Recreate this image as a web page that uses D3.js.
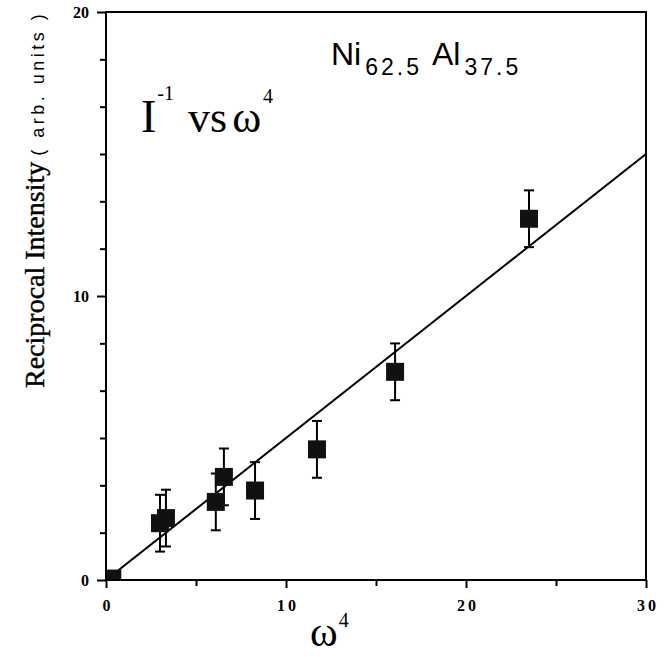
<!DOCTYPE html>
<html>
<head>
<meta charset="utf-8">
<script src="https://cdn.jsdelivr.net/npm/d3@7"></script>
<style>
  html, body { margin: 0; padding: 0; background: #fff; }
  svg { display: block; }
</style>
</head>
<body>
<div id="chart"></div>
<script>
// ---- data ----
const omega4 = [0.35, 3.0, 3.33, 6.1, 6.55, 8.28, 11.72, 16.06, 23.5];
const recipIntensity = [0.05, 2.0, 2.18, 2.75, 3.63, 3.15, 4.6, 7.33, 12.72];
const errors = [0, 1.0, 1.0, 1.0, 1.0, 1.0, 1.0, 1.0, 1.0];
const fitSlope = 0.5;
const fitRange = [0, 30];
const xMajorTicks = [0, 10, 20, 30];
const xMinorTicks = [5, 15, 25];
const yMajorTicks = [0, 10, 20];
const yMinorTicks = [10/6, 20/6, 30/6, 40/6, 50/6, 70/6, 80/6, 90/6, 100/6, 110/6];

const W = 667, H = 657;
const mLeft = 106, mRight = 646, mTop = 12, mBottom = 580;

const svg = d3.select("#chart").append("svg").attr("width", W).attr("height", H);
svg.append("rect").attr("width", W).attr("height", H).attr("fill", "#fff");

const x = d3.scaleLinear().domain([0, 30]).range([mLeft, mRight]);
const y = d3.scaleLinear().domain([0, 20]).range([mBottom, mTop]);

// clip
svg.append("clipPath").attr("id", "plotclip").append("rect")
  .attr("x", mLeft).attr("y", mTop).attr("width", mRight - mLeft).attr("height", mBottom - mTop);

// fit line
const plot = svg.append("g").attr("clip-path", "url(#plotclip)");
plot.append("line")
  .attr("x1", x(fitRange[0])).attr("y1", y(fitSlope * fitRange[0]))
  .attr("x2", x(fitRange[1])).attr("y2", y(fitSlope * fitRange[1]))
  .attr("stroke", "#000").attr("stroke-width", 2);

// error bars
const data = omega4.map((d, i) => ({ x: d, y: recipIntensity[i], e: errors[i] }));
const eb = plot.append("g").selectAll("g").data(data.filter(d => d.e > 0)).join("g");
eb.append("line")
  .attr("x1", d => x(d.x)).attr("x2", d => x(d.x))
  .attr("y1", d => y(d.y - d.e)).attr("y2", d => y(d.y + d.e))
  .attr("stroke", "#000").attr("stroke-width", 2);
eb.append("line")
  .attr("x1", d => x(d.x) - 5).attr("x2", d => x(d.x) + 5)
  .attr("y1", d => y(d.y + d.e)).attr("y2", d => y(d.y + d.e))
  .attr("stroke", "#000").attr("stroke-width", 2);
eb.append("line")
  .attr("x1", d => x(d.x) - 5).attr("x2", d => x(d.x) + 5)
  .attr("y1", d => y(d.y - d.e)).attr("y2", d => y(d.y - d.e))
  .attr("stroke", "#000").attr("stroke-width", 2);

// squares
const sq = 18;
plot.append("g").selectAll("rect").data(data).join("rect")
  .attr("x", d => x(d.x) - sq / 2).attr("y", d => y(d.y) - sq / 2)
  .attr("width", sq).attr("height", sq).attr("fill", "#111");

// frame
svg.append("rect").attr("x", mLeft).attr("y", mTop)
  .attr("width", mRight - mLeft).attr("height", mBottom - mTop)
  .attr("fill", "none").attr("stroke", "#000").attr("stroke-width", 2);

// axes
function styleAxis(g) {
  g.select(".domain").remove();
  g.selectAll(".tick line").attr("stroke", "#000").attr("stroke-width", 2);
}
const tickFont = "'Liberation Serif', 'Times New Roman', serif";

svg.append("g").attr("transform", `translate(${mLeft},0)`)
  .call(d3.axisLeft(y).tickValues(yMajorTicks).tickSize(9).tickPadding(8).tickFormat(d3.format("d")))
  .call(styleAxis)
  .call(g => g.selectAll("text").attr("font-family", tickFont).attr("font-weight", "bold")
    .attr("font-size", 16).attr("fill", "#000"));
svg.append("g").attr("transform", `translate(${mLeft},0)`)
  .call(d3.axisLeft(y).tickValues(yMinorTicks).tickSize(6).tickFormat(""))
  .call(styleAxis);

svg.append("g").attr("transform", `translate(0,${mBottom})`)
  .call(d3.axisBottom(x).tickValues(xMajorTicks).tickSize(8).tickPadding(12).tickFormat(d3.format("d")))
  .call(styleAxis)
  .call(g => g.selectAll("text").attr("font-family", tickFont).attr("font-weight", "bold")
    .attr("font-size", 16).attr("letter-spacing", 3).attr("dx", 1.5).attr("fill", "#000"));
svg.append("g").attr("transform", `translate(0,${mBottom})`)
  .call(d3.axisBottom(x).tickValues(xMinorTicks).tickSize(6).tickFormat(""))
  .call(styleAxis);

// y axis title
const yt = svg.append("text")
  .attr("transform", "translate(44,388) rotate(-90)")
  .attr("text-anchor", "start").attr("fill", "#000");
yt.append("tspan").attr("font-family", tickFont).attr("font-size", 28)
  .attr("stroke", "#000").attr("stroke-width", 0.4)
  .text("Reciprocal Intensity");
yt.append("tspan").attr("font-family", "'Liberation Sans', Arial, sans-serif")
  .attr("font-size", 18).attr("letter-spacing", 3.5).attr("dx", 6)
  .text("( arb. units )");

// x axis title
const xt = svg.append("text").attr("x", 310).attr("y", 646).attr("fill", "#000")
  .attr("font-family", tickFont);
xt.append("tspan").attr("font-size", 42).text("ω");
xt.append("tspan").attr("font-size", 20).attr("dy", -19).attr("dx", 1).text("4");

// inner title I^-1 vs ω^4
const t1 = svg.append("text").attr("x", 141).attr("y", 132).attr("fill", "#000")
  .attr("font-family", tickFont);
t1.append("tspan").attr("font-size", 46).text("I");
t1.append("tspan").attr("font-size", 20).attr("dy", -32).attr("dx", 1).text("-1");
t1.append("tspan").attr("font-size", 44).attr("dy", 32).attr("dx", 14).text("vs");
t1.append("tspan").attr("font-size", 44).attr("dx", 5).text("ω");
t1.append("tspan").attr("font-size", 20).attr("dy", -29).attr("dx", 2).text("4");

// composition label
const t2 = svg.append("text").attr("x", 331).attr("y", 65).attr("fill", "#000")
  .attr("font-family", "'Liberation Sans', Arial, sans-serif");
t2.append("tspan").attr("font-size", 32).text("Ni");
t2.append("tspan").attr("font-size", 23).attr("dy", 10).attr("dx", 4).attr("letter-spacing", 3).text("62.5");
t2.append("tspan").attr("font-size", 32).attr("dy", -10).attr("dx", 10).text("Al");
t2.append("tspan").attr("font-size", 23).attr("dy", 10).attr("dx", 4).attr("letter-spacing", 3).text("37.5");
</script>
</body>
</html>
